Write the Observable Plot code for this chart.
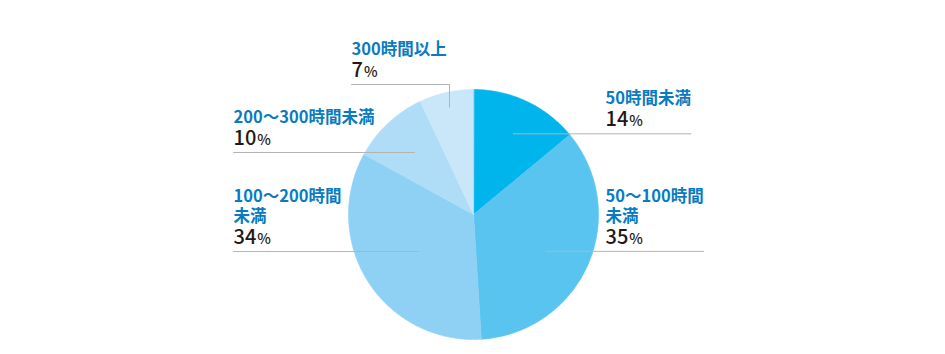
<!DOCTYPE html>
<html>
<head>
<meta charset="utf-8">
<script src="https://cdn.jsdelivr.net/npm/d3@7"></script>
<script src="https://cdn.jsdelivr.net/npm/@observablehq/plot@0.6"></script>
<style>
  html, body { margin: 0; padding: 0; background: #fff; }
  #chart { width: 945px; height: 354px; }
</style>
</head>
<body>
<div id="chart"></div>
<script>
// ---- data ----
const categories = ["50時間未満", "50〜100時間未満", "100〜200時間未満", "200〜300時間未満", "300時間以上"];
const shares = [14, 35, 34, 10, 7];
const labelLines = [["50時間未満"], ["50〜100時間", "未満"], ["100〜200時間", "未満"], ["200〜300時間未満"], ["300時間以上"]];
const colors = ["#00b4ec", "#59c4f0", "#8fd1f5", "#afddf7", "#c9e7f9"];

// ---- layout ----
const W = 945, H = 354;
const cx = 473, cy = 214, R = 125;
const FONT = "'Noto Sans CJK JP', 'Noto Sans', sans-serif";
const labelColor = "#0a7bc0", pctColor = "#231815", leaderColor = "#b4b4b4";
const labelSize = 16.5, pctSize = 20, pctSignSize = 14.5, lineGap = 20;
// per-slice annotation layout: side, anchor radius fraction, anchor angle shift (deg)
const annot = [
  {side: "right", rf: 0.72, shift: 1.1},
  {side: "right", rf: 0.65, shift: 3.6},
  {side: "left", rf: 0.53, shift: -1.6},
  {side: "left", rf: 0.685, shift: -0.4},
  {side: "top", rf: 0.88, shift: 0}
];
const colX = {right: 605, left: 233, top: 351};
const topLineY = 84;

// ---- text measurement ----
const ctx = document.createElement("canvas").getContext("2d");
function measure(t, size, weight) {
  ctx.font = `${weight} ${size}px ${FONT}`;
  return ctx.measureText(t).width;
}

// ---- pie geometry ----
const arcs = d3.pie().sort(null).value(d => d)(shares);
const pt = (a, r) => ({x: cx + r * Math.sin(a), y: cy - r * Math.cos(a)});
const piePts = [];
arcs.forEach((a, i) => {
  const cat = categories[i];
  piePts.push({cat, ...pt(0, 0)});
  const n = Math.max(2, Math.ceil((a.endAngle - a.startAngle) / (Math.PI / 180)));
  for (let k = 0; k <= n; k++) {
    const ang = a.startAngle + (a.endAngle - a.startAngle) * k / n;
    piePts.push({cat, ...pt(ang, R)});
  }
});

// ---- annotations ----
const leaderPts = [], labelTexts = [], pctTexts = [];
arcs.forEach((a, i) => {
  const cat = categories[i];
  const L = annot[i];
  const mid = (a.startAngle + a.endAngle) / 2 + L.shift * Math.PI / 180;
  const anc = pt(mid, R * L.rf);
  const tx = colX[L.side];
  const lines = labelLines[i];
  const pctStr = String(shares[i]);
  const wNum = measure(pctStr, pctSize, 500);
  const textW = Math.max(...lines.map(t => measure(t, labelSize, 700)), wNum + measure("%", pctSignSize, 500));
  let lineY;
  if (L.side === "right") {
    lineY = anc.y;
    leaderPts.push({cat, x: anc.x, y: lineY}, {cat, x: tx + textW, y: lineY});
  } else if (L.side === "left") {
    lineY = anc.y;
    leaderPts.push({cat, x: tx, y: lineY}, {cat, x: anc.x, y: lineY});
  } else {
    lineY = topLineY;
    leaderPts.push({cat, x: anc.x, y: anc.y}, {cat, x: anc.x, y: lineY}, {cat, x: tx, y: lineY});
  }
  const n = lines.length;
  labelTexts.push({t: lines.join("\n"), x: tx, y: lineY - 36 - lineGap * (n - 1) / 2});
  pctTexts.push({t: pctStr, x: tx, y: lineY - 14});
});

const chart = Plot.plot({
  width: W, height: H,
  margin: 0,
  style: {fontFamily: FONT, background: "#fff"},
  x: {domain: [0, W], range: [0, W], axis: null},
  y: {domain: [0, H], range: [0, H], axis: null},
  color: {domain: categories, range: colors},
  marks: [
    Plot.line(piePts, {x: "x", y: "y", z: "cat", fill: "cat", stroke: "cat", strokeWidth: 0.6, curve: "linear-closed"}),
    Plot.line(leaderPts, {x: "x", y: "y", z: "cat", stroke: leaderColor, strokeWidth: 1}),
    Plot.text(labelTexts, {x: "x", y: "y", text: "t", textAnchor: "start", lineAnchor: "middle", lineHeight: lineGap / labelSize, fill: labelColor, fontSize: labelSize, fontWeight: 700, fontFamily: FONT}),
    Plot.text(pctTexts, {x: "x", y: "y", text: "t", textAnchor: "start", fill: pctColor, fontSize: pctSize, fontWeight: 500, fontFamily: FONT})
  ]
});
// append a smaller "%" to each percentage value
const textGroups = chart.querySelectorAll('g[aria-label="text"]');
const pctGroup = textGroups[textGroups.length - 1];
pctGroup.querySelectorAll("text").forEach(t => {
  const s = document.createElementNS("http://www.w3.org/2000/svg", "tspan");
  s.setAttribute("font-size", pctSignSize);
  s.setAttribute("dx", 1);
  s.textContent = "%";
  t.appendChild(s);
});
document.getElementById("chart").appendChild(chart);
</script>
</body>
</html>
